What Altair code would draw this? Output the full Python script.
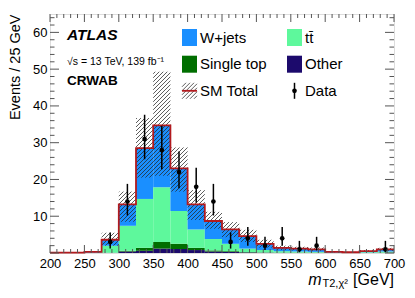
import math
import altair as alt
import pandas as pd

# ---------------- data ----------------
bin_lo = list(range(200, 700, 25))  # 25 GeV bins, 200-700
other = [0, 0, 0, 0.05, 0.4, 0.6, 1.2, 1.1, 0.8, 0.4, 0.3, 0.15, 0.1, 0.05, 0.05, 0.05, 0, 0, 0, 0.05]
single_top = [0, 0, 0, 0.05, 0.2, 0.8, 1.8, 1.4, 0.6, 0.3, 0.2, 0.1, 0.05, 0.05, 0.05, 0.05, 0, 0, 0, 0.05]
ttbar = [0.05, 0.05, 0.1, 1.9, 6.8, 13.3, 14.9, 8.9, 5.0, 3.1, 2.0, 0.95, 0.65, 0.4, 0.3, 0.2, 0.1, 0.1, 0.2, 0.3]
wjets = [0.05, 0.05, 0.2, 1.6, 5.8, 13.8, 16.8, 11.6, 6.8, 4.9, 3.9, 3.4, 1.7, 0.9, 0.8, 0.7, 0.2, 0.1, 0.3, 0.6]
unc_lo = [0.05, 0.05, 0.2, 2.0, 8.5, 20.5, 21.0, 16.7, 9.0, 6.6, 4.3, 3.0, 1.5, 0.8, 0.7, 0.6, 0.15, 0.1, 0.3, 0.6]
unc_hi = [0.15, 0.15, 0.4, 5.5, 16.7, 36.7, 49.3, 28.7, 17.1, 11.2, 8.4, 6.3, 3.6, 2.0, 1.7, 1.5, 0.5, 0.3, 0.8, 1.4]

data_x = [287.5, 312.5, 337.5, 362.5, 387.5, 412.5, 437.5, 462.5, 487.5, 512.5, 537.5, 562.5, 587.5, 687.5]
data_y = [3, 14, 31, 28, 22, 18, 14, 3, 4, 2, 4, 1, 2, 1]
data_lo = [1.2, 10.2, 25.5, 22.8, 17.6, 13.7, 10.2, 1.2, 2.0, 0.8, 2.0, 0.2, 0.8, 0.2]
data_hi = [5.6, 18.8, 37.6, 34.6, 27.6, 23.2, 18.8, 5.6, 7.1, 4.4, 7.1, 3.3, 4.4, 3.3]

proc_names = ["Other", "Single top", "ttbar", "W+jets"]
proc_colors = ["#1c0a6c", "#006e00", "#5ef89c", "#1a8fff"]

x_major = list(range(200, 701, 50))
x_minor = [v for v in range(200, 701, 10) if v % 50 != 0]
y_major = list(range(0, 61, 10))
y_minor = [v for v in range(0, 65, 2) if v % 10 != 0]
y_labels = list(range(10, 61, 10))

# ---------------- geometry ----------------
W, H = 344, 239
XMIN, XMAX, YMAX = 200, 700, 65
sx = W / (XMAX - XMIN)
sy = H / YMAX
FONT = "Liberation Sans"

xs = alt.Scale(domain=[XMIN, XMAX], nice=False, zero=False)
ys = alt.Scale(domain=[0, YMAX], nice=False, zero=False)
xax = alt.Axis(values=x_major, labelFontSize=13, labelPadding=4, ticks=False, domain=False,
               grid=False, title=None, labelColor="black", labelFlush=False, labelFont=FONT)
yax = alt.Axis(values=y_labels, labelFontSize=13, labelPadding=3, ticks=False, domain=False,
               grid=False, title="Events / 25 GeV", titleFontSize=14.5, titleFontWeight="normal",
               titleX=-31, titleY=0, titleAngle=270, titleAlign="right", titleBaseline="alphabetic",
               titleColor="black", labelColor="black", labelFont=FONT, titleFont=FONT)

X = lambda f: alt.X(f, type="quantitative", scale=xs, axis=xax)
Y = lambda f: alt.Y(f, type="quantitative", scale=ys, axis=yax)

# stacked rects
rows = []
for i, x0 in enumerate(bin_lo):
    base = 0.0
    for name, vals in zip(proc_names, [other, single_top, ttbar, wjets]):
        rows.append(dict(x0=x0, x1=x0 + 25, y0=base, y1=base + vals[i], proc=name))
        base += vals[i]
stack_df = pd.DataFrame(rows)
stack_df = stack_df[stack_df.y1 > stack_df.y0]

bars = alt.Chart(stack_df).mark_rect(strokeWidth=0).encode(
    x=X("x0"), x2="x1", y=Y("y0"), y2="y1",
    color=alt.Color("proc:N", scale=alt.Scale(domain=proc_names, range=proc_colors), legend=None),
)

# hatched uncertainty band
sp = 4.0
hrows = []
for x0, lo, hi in zip(bin_lo, unc_lo, unc_hi):
    u0, u1 = (x0 - XMIN) * sx, (x0 + 25 - XMIN) * sx
    v0, v1 = lo * sy, hi * sy
    for k in range(math.floor((u0 - v1) / sp) - 1, math.ceil((u1 - v0) / sp) + 2):
        c = k * sp
        va, vb = max(v0, u0 - c), min(v1, u1 - c)
        if vb - va > 0.3:
            hrows.append(dict(x=XMIN + (va + c) / sx, y=va / sy, x2=XMIN + (vb + c) / sx, y2=vb / sy))
hatch = alt.Chart(pd.DataFrame(hrows)).mark_rule(stroke="#262626", strokeWidth=0.75).encode(
    x=X("x"), x2="x2", y=Y("y"), y2="y2")

# SM total outline
tot = [a + b + c + d for a, b, c, d in zip(other, single_top, ttbar, wjets)]
line_df = pd.DataFrame(dict(x=bin_lo + [XMAX], y=tot + [tot[-1]]))
sm_line = alt.Chart(line_df).mark_line(interpolate="step-after", color="#b21a1e", strokeWidth=1.8).encode(
    x=X("x"), y=Y("y"))

# data points
ddf = pd.DataFrame(dict(x=data_x, y=data_y, lo=data_lo, hi=data_hi))
err = alt.Chart(ddf).mark_rule(color="black", strokeWidth=1.5).encode(x=X("x"), y=Y("lo"), y2="hi")
pts = alt.Chart(ddf).mark_point(filled=True, color="black", size=22, opacity=1).encode(x=X("x"), y=Y("y"))

# inward ticks
def xticks(vals, ln):
    d = pd.DataFrame(dict(v=vals))
    b = alt.Chart(d).mark_rule(color="#555", strokeWidth=1).encode(x=X("v"), y=alt.value(H), y2=alt.value(H - ln))
    t = alt.Chart(d).mark_rule(color="#555", strokeWidth=1).encode(x=X("v"), y=alt.value(0), y2=alt.value(ln))
    return [b, t]

def yticks(vals, ln):
    d = pd.DataFrame(dict(v=vals))
    l = alt.Chart(d).mark_rule(color="#555", strokeWidth=1).encode(y=Y("v"), x=alt.value(0), x2=alt.value(ln))
    r = alt.Chart(d).mark_rule(color="#555", strokeWidth=1).encode(y=Y("v"), x=alt.value(W), x2=alt.value(W - ln))
    return [l, r]

ticks = xticks(x_major, 8) + xticks(x_minor, 4) + yticks(y_major, 9) + yticks(y_minor, 4.5)

one = pd.DataFrame(dict(a=[0]))

def txt(s, x, y, size, weight="normal", style="normal", align="left", baseline="middle"):
    return alt.Chart(one).mark_text(text=s, font=FONT, fontSize=size, fontWeight=weight, fontStyle=style,
                                    align=align, baseline=baseline, color="black").encode(
        x=alt.value(x), y=alt.value(y))

def box(x0, x1, y0, y1, color):
    return alt.Chart(one).mark_rect(color=color, stroke=None).encode(
        x=alt.value(x0), x2=alt.value(x1), y=alt.value(y0), y2=alt.value(y1))

# legend
r1, r2, r3 = 23.5, 50.2, 76.8
c1s, c1t, c2s, c2t = 132, 150, 237, 255
legend = [
    box(c1s, c1s + 15, r1 - 8.5, r1 + 8.5, proc_colors[3]), txt("W+jets", c1t, r1, 15),
    box(c2s, c2s + 15, r1 - 8.5, r1 + 8.5, proc_colors[2]), txt("tt\u0304", c2t, r1, 15),
    box(c1s, c1s + 15, r2 - 8.5, r2 + 8.5, proc_colors[1]), txt("Single top", c1t, r2, 15),
    box(c2s, c2s + 15, r2 - 8.5, r2 + 8.5, proc_colors[0]), txt("Other", c2t, r2, 15),
    txt("SM Total", c1t, r3, 15), txt("Data", c2t, r3, 15),
]
# legend hatch swatch (pixel space)
lrows = []
bx0, bx1, by0, by1 = c1s, c1s + 15, r3 - 8, r3 + 8
for k in range(0, 20):
    c = bx0 + by0 + k * sp
    xa, xb = max(bx0, c - by1), min(bx1, c - by0)
    if xb - xa > 0.3:
        lrows.append(dict(x=xa, y=c - xa, x2=xb, y2=c - xb))
leg_hatch = alt.Chart(pd.DataFrame(lrows)).mark_rule(stroke="#262626", strokeWidth=0.75).encode(
    x=alt.X("x:Q", scale=None), x2="x2:Q", y=alt.Y("y:Q", scale=None), y2="y2:Q")
leg_line = alt.Chart(one).mark_rule(color="#b21a1e", strokeWidth=1.8).encode(
    x=alt.value(bx0), x2=alt.value(bx1), y=alt.value(r3), y2=alt.value(r3))
leg_err = alt.Chart(one).mark_rule(color="black", strokeWidth=1.5).encode(
    x=alt.value(c2s + 7.5), x2=alt.value(c2s + 7.5), y=alt.value(r3 - 8), y2=alt.value(r3 + 8))
leg_pt = alt.Chart(one).mark_point(filled=True, color="black", size=22, opacity=1).encode(
    x=alt.value(c2s + 7.5), y=alt.value(r3))

labels = [
    txt("ATLAS", 17, 21, 15.5, weight="bold", style="italic"),
    txt("\u221As = 13 TeV, 139 fb\u207B\u00B9", 17, 48, 10.5),
    txt("CRWAB", 17, 67, 13.5, weight="bold"),
    txt("[GeV]", W, 271, 16, align="right", baseline="alphabetic"),
    txt("m", 271.5, 270.5, 16, style="italic", align="right", baseline="alphabetic"),
    txt("T2,\u03C7\u00B2", 272.5, 273, 11, align="left", baseline="alphabetic"),
]

chart = alt.layer(
    bars, hatch, sm_line, err, pts, *ticks, *legend, leg_hatch, leg_line, leg_err, leg_pt, *labels
).properties(
    width=W, height=H,
    autosize=alt.AutoSizeParams(type="none"),
    padding={"left": 42, "top": 6, "right": 13, "bottom": 37},
).configure_view(stroke="#555", strokeWidth=1).configure(font=FONT)

chart.save("out.html", embed_options={"renderer": "svg", "actions": False})
